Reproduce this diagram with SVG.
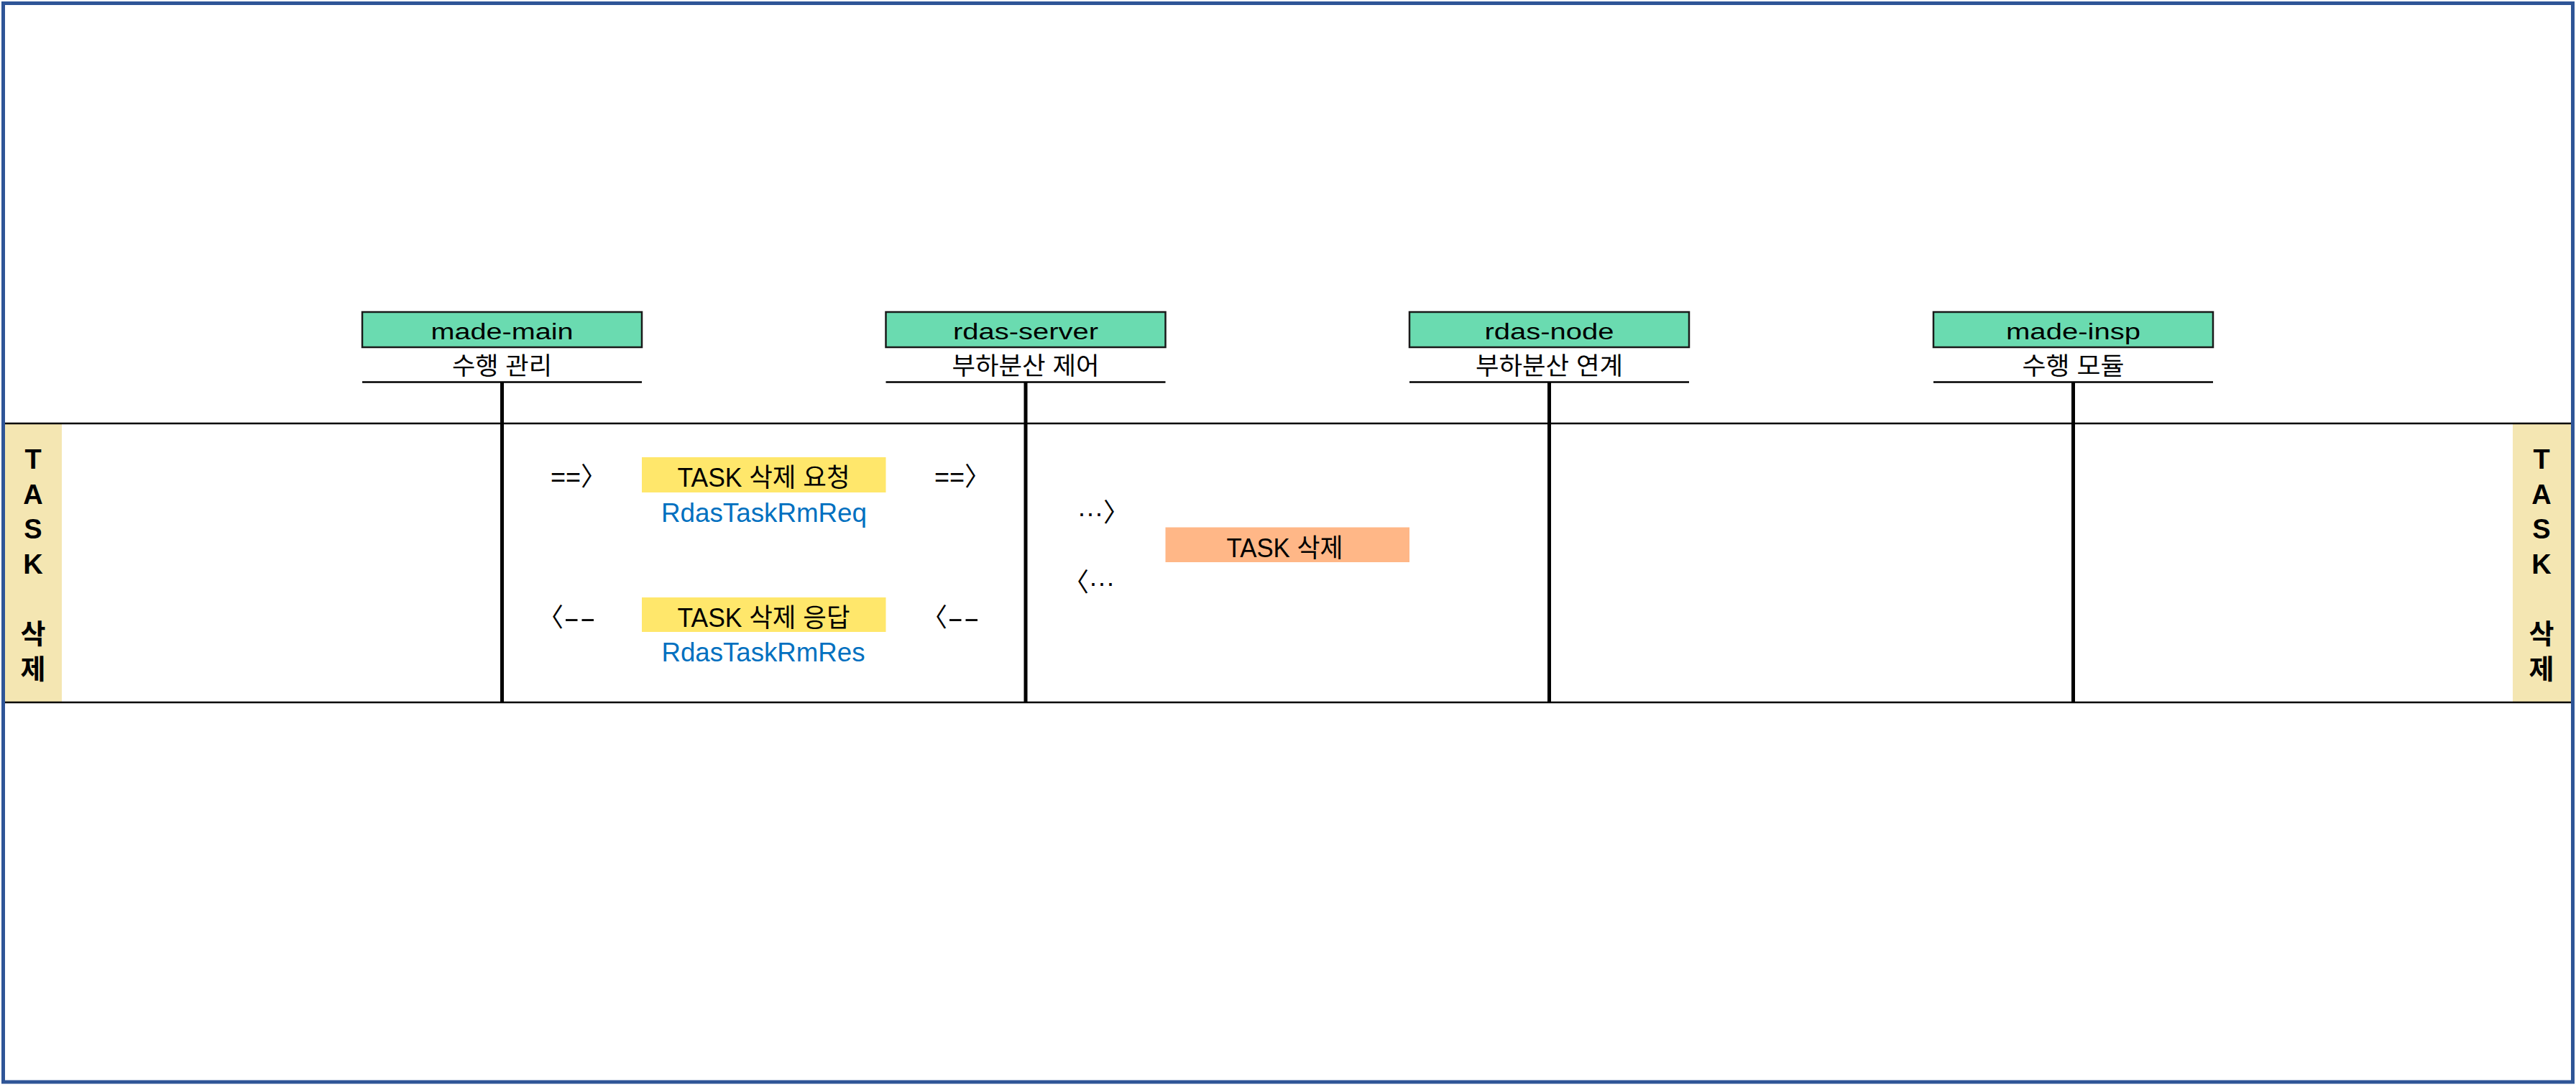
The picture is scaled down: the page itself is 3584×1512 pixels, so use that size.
<svg xmlns="http://www.w3.org/2000/svg" width="3584" height="1512" viewBox="0 0 3584 1512">
<style>
  text { font-family: 'Liberation Sans', 'Noto Sans CJK KR', sans-serif; fill: #000; }
  .nodebox { fill: #6ADBB0; stroke: #1a1a1a; stroke-width: 2.5; }
  .nodetxt { font-size: 31px; text-anchor: middle; }
  .sub { font-size: 34px; text-anchor: middle; }
  .uline { stroke: #000; stroke-width: 2.5; }
  .life { stroke: #000; stroke-width: 5; }
  .lane { stroke: #000; stroke-width: 2.5; }
  .band { fill: #F4E6B2; }
  .bandtxt { font-size: 38px; font-weight: bold; text-anchor: middle; }
  .msgbox { fill: #FFE76B; }
  .actbox { fill: #FFB787; }
  .msgtxt { font-size: 36px; text-anchor: middle; }
  .api { font-size: 36px; text-anchor: middle; fill: #0070C0; }
  .arr { font-size: 36px; }
</style>
<rect x="4.5" y="4.5" width="3575" height="1500.5" fill="#fff" stroke="#2F5597" stroke-width="5"/>

<g id="lane">
  <rect class="band" x="7" y="589" width="79" height="388"/>
  <rect class="band" x="3496" y="589" width="81" height="388"/>
  <line class="lane" x1="7" y1="589" x2="3577" y2="589"/>
  <line class="lane" x1="7" y1="977" x2="3577" y2="977"/>
  <text class="bandtxt" x="46"><tspan x="46" y="652">T</tspan><tspan x="46" y="700.5">A</tspan><tspan x="46" y="749">S</tspan><tspan x="46" y="798">K</tspan><tspan x="46" y="895">삭</tspan><tspan x="46" y="944">제</tspan></text>
  <text class="bandtxt" x="3536"><tspan x="3536" y="652">T</tspan><tspan x="3536" y="700.5">A</tspan><tspan x="3536" y="749">S</tspan><tspan x="3536" y="798">K</tspan><tspan x="3536" y="895">삭</tspan><tspan x="3536" y="944">제</tspan></text>
</g>

<g id="connectors">
  <line class="life" x1="698.5" y1="531" x2="698.5" y2="977"/>
  <line class="life" x1="1427" y1="531" x2="1427" y2="977"/>
  <line class="life" x1="2155.5" y1="531" x2="2155.5" y2="977"/>
  <line class="life" x1="2884.5" y1="531" x2="2884.5" y2="977"/>
  <text class="arr" x="766" y="676">==〉</text>
  <text class="arr" x="1300" y="676">==〉</text>
  <text class="arr" x="748" y="872">〈<tspan textLength="45" lengthAdjust="spacingAndGlyphs">--</tspan></text>
  <text class="arr" x="1282" y="872">〈<tspan textLength="45" lengthAdjust="spacingAndGlyphs">--</tspan></text>
  <text class="arr" x="1499" y="726">···〉</text>
  <text class="arr" x="1479" y="823">〈···</text>
</g>

<g id="node-made-main">
  <rect class="nodebox" x="504" y="434" width="389" height="49"/>
  <text class="nodetxt" x="698.5" y="472" textLength="198" lengthAdjust="spacingAndGlyphs">made-main</text>
  <text class="sub" x="698.5" y="521" textLength="139" lengthAdjust="spacingAndGlyphs">수행 관리</text>
  <line class="uline" x1="504" y1="531.5" x2="893" y2="531.5"/>
</g>
<g id="node-rdas-server">
  <rect class="nodebox" x="1232.5" y="434" width="389" height="49"/>
  <text class="nodetxt" x="1427" y="472" textLength="202" lengthAdjust="spacingAndGlyphs">rdas-server</text>
  <text class="sub" x="1427" y="521" textLength="205" lengthAdjust="spacingAndGlyphs">부하분산 제어</text>
  <line class="uline" x1="1232.5" y1="531.5" x2="1621.5" y2="531.5"/>
</g>
<g id="node-rdas-node">
  <rect class="nodebox" x="1961" y="434" width="389" height="49"/>
  <text class="nodetxt" x="2155.5" y="472" textLength="180" lengthAdjust="spacingAndGlyphs">rdas-node</text>
  <text class="sub" x="2155.5" y="521" textLength="205" lengthAdjust="spacingAndGlyphs">부하분산 연계</text>
  <line class="uline" x1="1961" y1="531.5" x2="2350" y2="531.5"/>
</g>
<g id="node-made-insp">
  <rect class="nodebox" x="2690" y="434" width="389" height="49"/>
  <text class="nodetxt" x="2884.5" y="472" textLength="187" lengthAdjust="spacingAndGlyphs">made-insp</text>
  <text class="sub" x="2884.5" y="521" textLength="142" lengthAdjust="spacingAndGlyphs">수행 모듈</text>
  <line class="uline" x1="2690" y1="531.5" x2="3079" y2="531.5"/>
</g>

<g id="msg-request">
  <rect class="msgbox" x="893" y="636" width="339.5" height="49"/>
  <text class="msgtxt" x="1062.5" y="677" textLength="240" lengthAdjust="spacingAndGlyphs">TASK 삭제 요청</text>
  <text class="api" x="1063" y="726" textLength="286" lengthAdjust="spacingAndGlyphs">RdasTaskRmReq</text>
</g>
<g id="msg-response">
  <rect class="msgbox" x="893" y="831" width="339.5" height="48"/>
  <text class="msgtxt" x="1062.5" y="872" textLength="240" lengthAdjust="spacingAndGlyphs">TASK 삭제 응답</text>
  <text class="api" x="1062" y="919.5" textLength="283" lengthAdjust="spacingAndGlyphs">RdasTaskRmRes</text>
</g>
<g id="act-task-delete">
  <rect class="actbox" x="1621.5" y="733.5" width="339.5" height="48.5"/>
  <text class="msgtxt" x="1787.5" y="775" textLength="162" lengthAdjust="spacingAndGlyphs">TASK 삭제</text>
</g>
</svg>
